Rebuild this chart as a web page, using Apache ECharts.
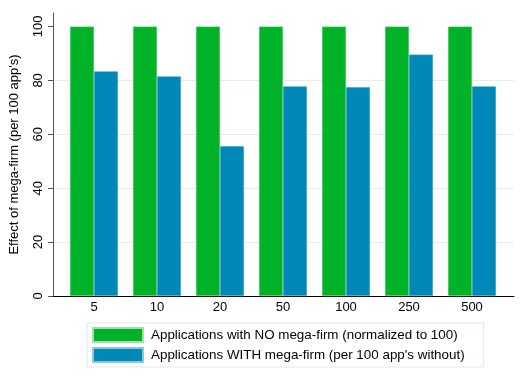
<!DOCTYPE html>
<html><head><meta charset="utf-8">
<script src="https://cdn.jsdelivr.net/npm/echarts@6/dist/echarts.min.js"></script>
<style>html,body{margin:0;padding:0;background:#fff}#c{width:528px;height:381px}</style>
</head><body><div id="c"></div>
<script>
const categories = ['5', '10', '20', '50', '100', '250', '500'];
const noMegaFirm = [100, 100, 100, 100, 100, 100, 100];
const withMegaFirm = [83.4, 81.5, 55.6, 77.8, 77.5, 89.6, 77.8];
const yTicks = [0, 20, 40, 60, 80, 100];
const seriesNames = ['Applications with NO mega-firm (normalized to 100)', "Applications WITH mega-firm (per 100 app's without)"];
const yTitle = "Effect of mega-firm (per 100 app's)";

const FONT = 'Liberation Sans, Arial, sans-serif';
const GREEN = '#00b227';
const BLUE = '#0088b9';

const chart = echarts.init(document.getElementById('c'), null, {renderer: 'canvas'});
chart.setOption({
  animation: false,
  backgroundColor: '#fff',
  textStyle: {fontFamily: FONT},
  grid: [
    {left: 52, top: 13, width: 462, height: 283},
    {left: 62.5, top: 13, width: 441, height: 283}
  ],
  xAxis: [
    {type: 'value', gridIndex: 0, min: 0, max: 1,
     axisLine: {show: true, lineStyle: {color: '#000', width: 1}},
     axisTick: {show: false}, axisLabel: {show: false}, splitLine: {show: false}},
    {type: 'category', gridIndex: 1, data: categories,
     axisLine: {show: false}, axisTick: {show: false},
     axisLabel: {fontSize: 13, color: '#000', margin: 5, fontFamily: FONT}}
  ],
  yAxis: [
    {type: 'value', gridIndex: 0, min: 0, max: 105, interval: 20,
     name: yTitle, nameLocation: 'middle', nameGap: 32,
     nameTextStyle: {fontSize: 13, color: '#000', fontFamily: FONT},
     axisLine: {show: true, lineStyle: {color: '#555', width: 1}},
     axisTick: {show: true, length: 5, lineStyle: {color: '#555'}, customValues: yTicks},
     axisLabel: {rotate: 90, fontSize: 13, color: '#000', margin: 8, fontFamily: FONT,
                 formatter: function (v) { return yTicks.indexOf(v) >= 0 ? String(v) : ''; }},
     splitLine: {show: true, showMinLine: false, showMaxLine: false, lineStyle: {color: '#e4eef1', width: 1}}},
    {type: 'value', gridIndex: 1, min: 0, max: 105, show: false, splitLine: {show: false}}
  ],
  legend: {
    orient: 'vertical', left: 87, top: 323,
    icon: 'rect', itemWidth: 50, itemHeight: 14, itemGap: 4,
    borderColor: '#dfe8ea', borderWidth: 1, padding: [4, 19, 4, 5],
    textStyle: {fontSize: 13.4, color: '#000', fontFamily: FONT, padding: [0, 0, 0, 3]},
    data: seriesNames
  },
  series: [
    {name: seriesNames[0], type: 'bar', xAxisIndex: 1, yAxisIndex: 1, data: noMegaFirm,
     barWidth: 24, barGap: '0%', itemStyle: {color: GREEN, borderColor: '#9fe0ab', borderWidth: 0.4}},
    {name: seriesNames[1], type: 'bar', xAxisIndex: 1, yAxisIndex: 1, data: withMegaFirm,
     barWidth: 24, barGap: '0%', itemStyle: {color: BLUE, borderColor: '#8cc8de', borderWidth: 0.4}}
  ]
});
</script></body></html>
